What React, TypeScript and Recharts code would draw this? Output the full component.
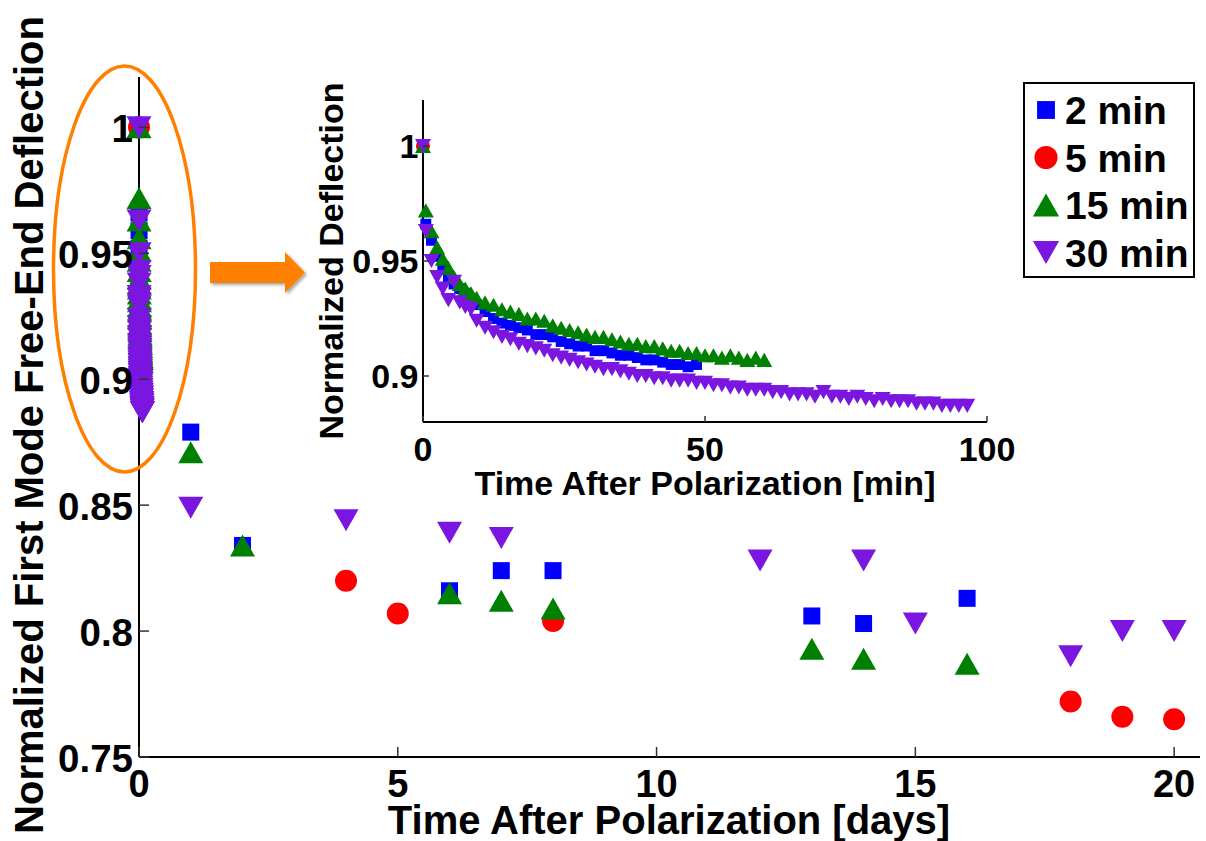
import { Legend, Scatter, ScatterChart, XAxis, YAxis } from 'recharts';

const FONT = '"Liberation Sans", Arial, Helvetica, sans-serif';
const TICK_COLOR = '#333';

// inset: first ~100 minutes after polarization (sample times, minutes)
const minuteGrid = [
  0, 0.5, 1.5, 2.5, 3.5, 4.5, 5.5, 6.5, 7.5, 8.5, 9.5, 11, 12.5, 14, 15.5, 17, 18.5, 20, 21.5, 23, 24.5, 26, 27.5,
  29, 30.5, 32, 33.5, 35, 36.5, 38, 39.5, 41, 42.5, 44, 45.5, 47, 48.5, 50, 51.5, 53, 54.5, 56, 57.5, 59, 60.5, 62,
  63.5, 65, 66.5, 68, 69.5, 71, 72.5, 74, 75.5, 77, 78.5, 80, 81.5, 83, 84.5, 86, 87.5, 89, 90.5, 92, 93.5, 95, 96.5,
];
const inset2min = [
  1.0, 0.966, 0.959, 0.952, 0.947, 0.943, 0.94, 0.938, 0.936, 0.933, 0.931, 0.928, 0.925, 0.923, 0.922, 0.921, 0.92,
  0.918, 0.918, 0.917, 0.915, 0.914, 0.913, 0.913, 0.911, 0.911, 0.91, 0.909, 0.909, 0.908, 0.907, 0.907, 0.906,
  0.905, 0.905, 0.904, 0.905,
];
const inset5min = [1.0];
const inset15min = [
  1.0, 0.972, 0.963, 0.956, 0.951, 0.947, 0.943, 0.94, 0.938, 0.936, 0.934, 0.932, 0.931, 0.929, 0.928, 0.927, 0.925,
  0.925, 0.924, 0.922, 0.921, 0.92, 0.919, 0.918, 0.917, 0.917, 0.916, 0.915, 0.914, 0.914, 0.913, 0.913, 0.912,
  0.911, 0.911, 0.91, 0.91, 0.909, 0.909, 0.908, 0.909, 0.908, 0.907, 0.908, 0.907,
];
const inset30min = [
  1.0, 0.963, 0.95, 0.943, 0.938, 0.933, 0.941, 0.932, 0.93, 0.929, 0.924, 0.921, 0.919, 0.917, 0.916, 0.914, 0.913,
  0.912, 0.911, 0.909, 0.908, 0.907, 0.906, 0.905, 0.904, 0.903, 0.903, 0.902, 0.901, 0.9, 0.9, 0.899, 0.899, 0.898,
  0.898, 0.898, 0.897, 0.897, 0.896, 0.896, 0.895, 0.895, 0.894, 0.894, 0.894, 0.893, 0.893, 0.892, 0.892, 0.892,
  0.891, 0.893, 0.891, 0.891, 0.89, 0.891, 0.89, 0.889, 0.89, 0.889, 0.889, 0.889, 0.888, 0.888, 0.888, 0.887, 0.887,
  0.887, 0.887,
];

// later measurements (days)
const days2min = [1, 2, 6, 7, 8, 13, 14, 16];
const vals2min = [0.879, 0.834, 0.816, 0.824, 0.824, 0.806, 0.803, 0.813];
const days5min = [4, 5, 8, 18, 19, 20];
const vals5min = [0.82, 0.807, 0.804, 0.772, 0.766, 0.765];
const days15min = [1, 2, 6, 7, 8, 13, 14, 16];
const vals15min = [0.871, 0.834, 0.815, 0.812, 0.809, 0.793, 0.789, 0.787];
const days30min = [1, 4, 6, 7, 12, 14, 15, 18, 19, 20];
const vals30min = [0.849, 0.844, 0.839, 0.837, 0.828, 0.828, 0.803, 0.79, 0.8, 0.8];

const mainXTicks = [0, 5, 10, 15, 20];
const mainXLabels = ['0', '5', '10', '15', '20'];
const mainYTicks = [0.75, 0.8, 0.85, 0.9, 0.95, 1];
const mainYLabels = ['0.75', '0.8', '0.85', '0.9', '0.95', '1'];
const insetXTicks = [0, 50, 100];
const insetXLabels = ['0', '50', '100'];
const insetYTicks = [0.9, 0.95, 1];
const insetYLabels = ['0.9', '0.95', '1'];

const seriesNames = ['2 min', '5 min', '15 min', '30 min'];

type Kind = 'square' | 'circle' | 'up' | 'down';
const kinds: Kind[] = ['square', 'circle', 'up', 'down'];
const colors = ['#0000ff', '#ff0000', '#008000', '#7a16e0'];

const minutesToPoints = (vals: number[]) => vals.map((y, i) => ({ x: minuteGrid[i], y }));
const minutesAsDays = (vals: number[]) => vals.map((y, i) => ({ x: minuteGrid[i] / 1440, y }));
const dayPoints = (xs: number[], ys: number[]) => ys.map((y, i) => ({ x: xs[i], y }));

const insetSeries = [inset2min, inset5min, inset15min, inset30min];
const daySeries = [
  dayPoints(days2min, vals2min),
  dayPoints(days5min, vals5min),
  dayPoints(days15min, vals15min),
  dayPoints(days30min, vals30min),
];
const mainData = insetSeries.map((s, i) => [...minutesAsDays(s), ...daySeries[i]]);
const insetData = insetSeries.map((s) => minutesToPoints(s));

function Mark({ kind, cx, cy, k, color }: { kind: Kind; cx?: number; cy?: number; k: number; color: string }) {
  if (cx == null || cy == null) return null;
  if (kind === 'square') {
    const s = 17 * k;
    return <rect x={cx - s / 2} y={cy - s / 2} width={s} height={s} fill={color} />;
  }
  if (kind === 'circle') return <circle cx={cx} cy={cy} r={11 * k} fill={color} />;
  const w = 12.5 * k;
  const h = 11 * k;
  const pts =
    kind === 'up'
      ? `${cx - w},${cy + h} ${cx + w},${cy + h} ${cx},${cy - h}`
      : `${cx - w},${cy - h} ${cx + w},${cy - h} ${cx},${cy + h}`;
  return <polygon points={pts} fill={color} />;
}

const textStyle = (size: number) => ({ fontFamily: FONT, fontWeight: 700, fontSize: size, fill: '#000' });

type Side = 'bottom' | 'top' | 'left' | 'right';
const tickRenderer =
  (side: Side, len: number, labels: string[] | null, size = 0, gap = 0, dy = 0) =>
  (props: any) => {
    const { x, y, index } = props;
    let line;
    if (side === 'bottom') line = <line x1={x} x2={x} y1={y} y2={y - len} />;
    else if (side === 'top') line = <line x1={x} x2={x} y1={y} y2={y + len} />;
    else if (side === 'left') line = <line x1={x} x2={x + len} y1={y} y2={y} />;
    else line = <line x1={x} x2={x - len} y1={y} y2={y} />;
    return (
      <g>
        <g stroke={TICK_COLOR} strokeWidth={1.5}>{line}</g>
        {labels && side === 'bottom' && (
          <text x={x} y={y + gap} textAnchor="middle" style={textStyle(size)}>
            {labels[index]}
          </text>
        )}
        {labels && side === 'left' && (
          <text x={x - gap} y={y + dy} textAnchor="end" style={textStyle(size)}>
            {labels[index]}
          </text>
        )}
      </g>
    );
  };

const axisLine = { stroke: '#000', strokeWidth: 2 };

function LegendBox() {
  return (
    <svg width={172} height={196} style={{ display: 'block' }}>
      <rect x={1} y={1} width={170} height={194} fill="#fff" stroke="#000" strokeWidth={2} />
      {seriesNames.map((name, i) => {
        const cy = 28 + i * 47.5;
        return (
          <g key={name}>
            <Mark kind={kinds[i]} cx={23} cy={cy} k={1.05} color={colors[i]} />
            <text x={42} y={cy + 14} style={textStyle(39)}>
              {name}
            </text>
          </g>
        );
      })}
    </svg>
  );
}

function Inset() {
  return (
    <ScatterChart width={740} height={430} margin={{ top: 20, right: 43, bottom: 0, left: 0 }}>
      <XAxis
        xAxisId="b"
        type="number"
        dataKey="x"
        domain={[0, 100]}
        ticks={insetXTicks}
        interval={0}
        height={88}
        tickSize={0}
        tickMargin={0}
        tickLine={false}
        axisLine={axisLine}
        tick={tickRenderer('bottom', 6, insetXLabels, 34, 39)}
        label={{
          content: () => (
            <text x={415} y={415} textAnchor="middle" style={textStyle(34)}>
              Time After Polarization [min]
            </text>
          ),
        }}
      />
      <XAxis
        xAxisId="t"
        orientation="top"
        type="number"
        dataKey="x"
        domain={[0, 100]}
        ticks={insetXTicks}
        interval={0}
        allowDataOverflow
        height={0}
        tickSize={0}
        tickMargin={0}
        tickLine={false}
        axisLine={axisLine}
        tick={tickRenderer('top', 6, null)}
      />
      <YAxis
        yAxisId="l"
        type="number"
        dataKey="y"
        domain={[0.88, 1.02]}
        ticks={insetYTicks}
        interval={0}
        width={133}
        tickSize={0}
        tickMargin={0}
        tickLine={false}
        axisLine={axisLine}
        tick={tickRenderer('left', 6, insetYLabels, 34, 4.5, 12)}
        label={{
          content: () => (
            <text transform="translate(53,181) rotate(-90)" textAnchor="middle" style={textStyle(34)}>
              Normalized Deflection
            </text>
          ),
        }}
      />
      <YAxis
        yAxisId="r"
        orientation="right"
        type="number"
        dataKey="y"
        domain={[0.88, 1.02]}
        ticks={insetYTicks}
        interval={0}
        allowDataOverflow
        width={0}
        tickSize={0}
        tickMargin={0}
        tickLine={false}
        axisLine={axisLine}
        tick={tickRenderer('right', 6, null)}
      />
      {insetData.map((d, i) => (
        <Scatter
          key={seriesNames[i]}
          name={seriesNames[i]}
          xAxisId="b"
          yAxisId="l"
          data={d}
          isAnimationActive={false}
          shape={(p: any) => <Mark kind={kinds[i]} cx={p.cx} cy={p.cy} k={0.64} color={colors[i]} />}
        />
      ))}
    </ScatterChart>
  );
}

export default function App() {
  return (
    <div style={{ position: 'absolute', left: 0, top: 0, width: 1206, height: 841, background: '#fff' }}>
      <ScatterChart width={1206} height={841} margin={{ top: 77, right: 6, bottom: 0, left: 0 }}>
        <XAxis
          xAxisId="b"
          type="number"
          dataKey="x"
          domain={[0, 20.5]}
          ticks={mainXTicks}
          interval={0}
          height={84}
          tickSize={0}
          tickMargin={0}
          tickLine={false}
          axisLine={axisLine}
          tick={tickRenderer('bottom', 10, mainXLabels, 38, 40)}
          label={{
            content: () => (
              <text x={669} y={834} textAnchor="middle" style={textStyle(40)}>
                Time After Polarization [days]
              </text>
            ),
          }}
        />
        <XAxis
          xAxisId="t"
          orientation="top"
          type="number"
          dataKey="x"
          domain={[0, 20.5]}
          ticks={mainXTicks}
          interval={0}
          allowDataOverflow
          height={0}
          tickSize={0}
          tickMargin={0}
          tickLine={false}
          axisLine={axisLine}
          tick={tickRenderer('top', 10, null)}
        />
        <YAxis
          yAxisId="l"
          type="number"
          dataKey="y"
          domain={[0.75, 1.02]}
          ticks={mainYTicks}
          interval={0}
          width={139}
          tickSize={0}
          tickMargin={0}
          tickLine={false}
          axisLine={axisLine}
          tick={tickRenderer('left', 10, mainYLabels, 38.5, 6, 15)}
          label={{
            content: () => (
              <text transform="translate(43,425) rotate(-90)" textAnchor="middle" style={textStyle(40)}>
                Normalized First Mode Free-End Deflection
              </text>
            ),
          }}
        />
        <YAxis
          yAxisId="r"
          orientation="right"
          type="number"
          dataKey="y"
          domain={[0.75, 1.02]}
          ticks={mainYTicks}
          interval={0}
          allowDataOverflow
          width={0}
          tickSize={0}
          tickMargin={0}
          tickLine={false}
          axisLine={axisLine}
          tick={tickRenderer('right', 10, null)}
        />
        {mainData.map((d, i) => (
          <Scatter
            key={seriesNames[i]}
            name={seriesNames[i]}
            xAxisId="b"
            yAxisId="l"
            data={d}
            isAnimationActive={false}
            shape={(p: any) => <Mark kind={kinds[i]} cx={p.cx} cy={p.cy} k={1} color={colors[i]} />}
          />
        ))}
        <Legend
          layout="vertical"
          align="center"
          verticalAlign="middle"
          wrapperStyle={{ left: 1023, top: 82, width: 172, height: 196 }}
          content={() => <LegendBox />}
        />
      </ScatterChart>

      {/* zoom-in annotation: ellipse round day 0 and arrow to the inset */}
      <svg width={1206} height={841} style={{ position: 'absolute', left: 0, top: 0, pointerEvents: 'none' }}>
        <defs>
          <filter id="arrowShadow" x="-20%" y="-20%" width="150%" height="160%">
            <feDropShadow dx="2" dy="2" stdDeviation="1.5" floodOpacity="0.35" />
          </filter>
        </defs>
        <ellipse cx={124.5} cy={269} rx={71} ry={203} fill="none" stroke="#ff7f00" strokeWidth={3.5} />
        <polygon
          points="210,262 285,262 285,252 305,272.5 285,293 285,283 210,283"
          fill="#ff7f00"
          filter="url(#arrowShadow)"
        />
      </svg>

      <div style={{ position: 'absolute', left: 290, top: 80, width: 740, height: 430 }}>
        <Inset />
      </div>
    </div>
  );
}
